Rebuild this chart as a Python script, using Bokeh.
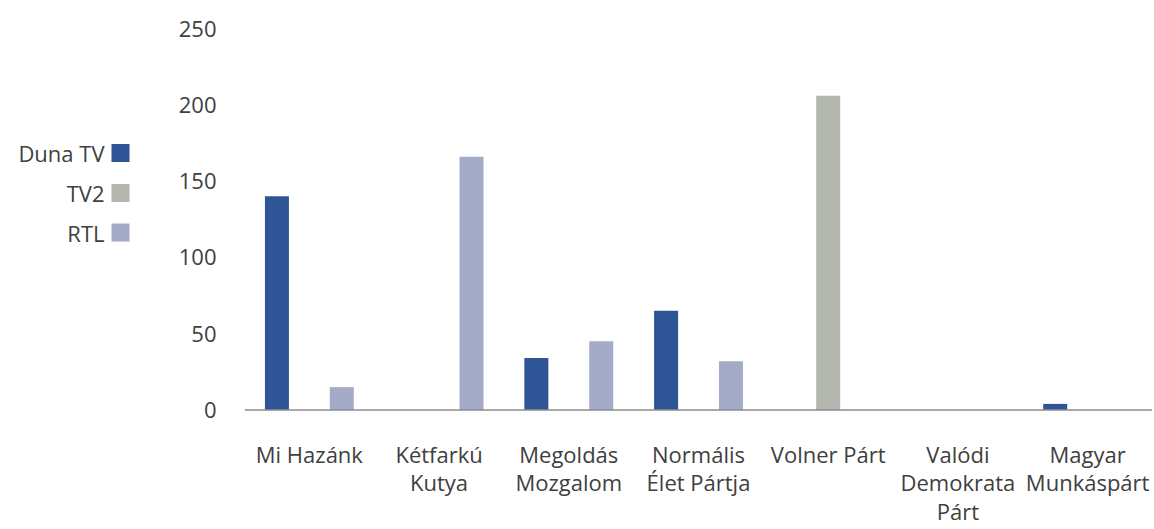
from bokeh.plotting import figure
from bokeh.models import ColumnDataSource, FactorRange, Range1d, FixedTicker, Span
from bokeh.transform import dodge
from bokeh.layouts import row
from bokeh.embed import file_html
from bokeh.resources import INLINE
from bokeh.core.properties import value

categories = ["Mi Hazánk", "Kétfarkú Kutya", "Megoldás Mozgalom", "Normális Élet Pártja",
              "Volner Párt", "Valódi Demokrata Párt", "Magyar Munkáspárt"]
category_labels = ["Mi Hazánk", "Kétfarkú\nKutya", "Megoldás\nMozgalom", "Normális\nÉlet Pártja",
                   "Volner Párt", "Valódi\nDemokrata\nPárt", "Magyar\nMunkáspárt"]
series_names = ["Duna TV", "TV2", "RTL"]
duna_tv = [140, 0, 34, 65, 0, 0, 4]
tv2 = [0, 0, 0, 0, 206, 0, 0]
rtl = [15, 166, 45, 32, 0, 0, 0]
y_ticks = [0, 50, 100, 150, 200, 250]

colors = ["#2F5597", "#B3B6AE", "#A4ABC8"]
offsets = [-0.25, 0.0, 0.25]
FONT = "Open Sans"
FS = "22px"
TEXT = "#404040"

H = 529
TOP = 28
LEG_W = 158
MAIN_W = 994
PX_PER_UNIT = 381.5 / 250                  # frame pixels per value unit
BELOW = (H - TOP - 381.5) / PX_PER_UNIT    # room below the baseline for the category labels

p = figure(x_range=FactorRange(*categories), y_range=Range1d(-BELOW, 250),
           width=MAIN_W, height=H, output_backend="svg", toolbar_location=None,
           min_border_left=86, min_border_right=0, min_border_top=TOP,
           min_border_bottom=0, x_axis_location=None)
p.outline_line_color = None
p.grid.grid_line_color = None
p.background_fill_color = "white"

for name, vals, col, off in zip(series_names, [duna_tv, tv2, rtl], colors, offsets):
    cats = [c for c, v in zip(categories, vals) if v > 0]
    vs = [v for v in vals if v > 0]
    src = ColumnDataSource(dict(cat=cats, val=vs))
    p.vbar(x=dodge("cat", off, range=p.x_range), top="val", bottom=0, width=0.185,
           source=src, fill_color=col, line_color=None)

# baseline (category axis line)
p.add_layout(Span(location=0, dimension="width", line_color="#8C8C8C", line_width=1.5))

# category labels
lab_src = ColumnDataSource(dict(cat=categories, label=category_labels,
                                y=[-28.5 / PX_PER_UNIT] * len(categories)))
p.text(x="cat", y="y", text="label", source=lab_src, text_align="center",
       text_baseline="top", text_font=value(FONT), text_font_size=FS,
       text_color=TEXT, text_line_height=0.95)

p.yaxis.ticker = FixedTicker(ticks=y_ticks)
p.yaxis.axis_line_color = None
p.yaxis.major_tick_line_color = None
p.yaxis.minor_tick_line_color = None
p.yaxis.major_label_standoff = 22
p.yaxis.major_label_text_font = FONT
p.yaxis.major_label_text_font_size = FS
p.yaxis.major_label_text_color = TEXT

# legend panel (its frame is aligned with the main plot's frame; units = page pixels)
lg = figure(width=LEG_W, height=H, x_range=Range1d(0, LEG_W),
            y_range=Range1d(H, TOP),
            output_backend="svg", toolbar_location=None,
            min_border=0, min_border_left=0, min_border_right=0,
            min_border_top=TOP, min_border_bottom=0)
lg.axis.visible = False
lg.grid.grid_line_color = None
lg.outline_line_color = None
leg_y = [152.5, 192.5, 232]
lsrc = ColumnDataSource(dict(name=series_names, y=leg_y, color=colors,
                             tx=[104] * 3, sx=[120] * 3))
lg.rect(x="sx", y="y", width=18, height=18, width_units="screen", height_units="screen",
        fill_color="color", line_color=None, source=lsrc)
lg.text(x="tx", y="y", text="name", source=lsrc, text_align="right",
        text_baseline="middle", text_font=value(FONT), text_font_size=FS,
        text_color=TEXT)

layout = row(lg, p)
open("out.html", "w").write(file_html(layout, INLINE))
